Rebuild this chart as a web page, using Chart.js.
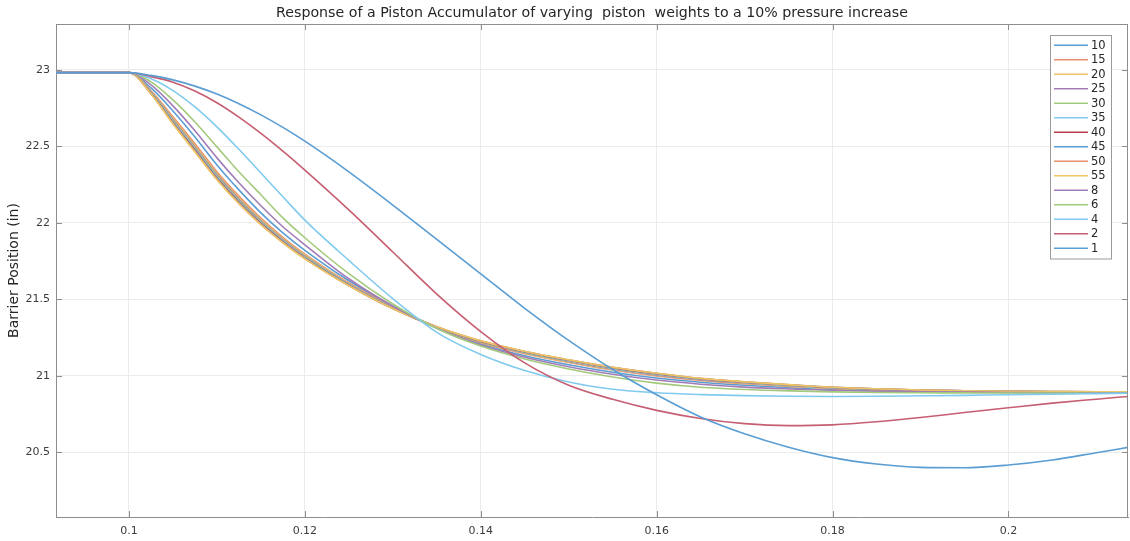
<!DOCTYPE html>
<html>
<head>
<meta charset="utf-8">
<script src="https://cdn.jsdelivr.net/npm/chart.js@4.4.1/dist/chart.umd.min.js"></script>
<style>
  html, body { margin: 0; padding: 0; background: #fff; }
  canvas { display: block; }
</style>
</head>
<body>
<canvas id="chart-response" width="1130" height="541"></canvas>
<script>
// simulation time (s)
const timeSteps = [0.0917, 0.1, 0.1025, 0.105, 0.1075, 0.11, 0.1125, 0.115, 0.1175, 0.12,
  0.125, 0.13, 0.135, 0.14, 0.145, 0.15, 0.155, 0.16, 0.165, 0.17,
  0.175, 0.18, 0.185, 0.19, 0.195, 0.2, 0.205, 0.21, 0.2136];

const weights = ["10", "15", "20", "25", "30", "35", "40", "45", "50", "55", "8", "6", "4", "2", "1"];

// barrier position (in) for each piston weight
const w10 = [22.982, 22.982, 22.882, 22.732, 22.562, 22.379, 22.216, 22.066, 21.935, 21.821, 21.622, 21.454, 21.316, 21.209, 21.132, 21.073, 21.024, 20.986, 20.959, 20.939, 20.923, 20.910, 20.903, 20.898, 20.896, 20.894, 20.892, 20.892, 20.890];
const w15 = [22.982, 22.982, 22.864, 22.694, 22.518, 22.335, 22.175, 22.031, 21.906, 21.796, 21.607, 21.450, 21.316, 21.217, 21.145, 21.088, 21.039, 21.000, 20.971, 20.949, 20.932, 20.917, 20.909, 20.903, 20.899, 20.897, 20.895, 20.894, 20.893];
const w20 = [22.982, 22.982, 22.859, 22.683, 22.505, 22.323, 22.163, 22.021, 21.897, 21.789, 21.603, 21.447, 21.317, 21.220, 21.149, 21.092, 21.043, 21.004, 20.974, 20.952, 20.935, 20.919, 20.911, 20.904, 20.900, 20.897, 20.895, 20.895, 20.893];
const w25 = [22.982, 22.982, 22.856, 22.675, 22.496, 22.314, 22.155, 22.014, 21.891, 21.783, 21.600, 21.446, 21.318, 21.222, 21.151, 21.095, 21.046, 21.007, 20.976, 20.954, 20.936, 20.921, 20.912, 20.905, 20.901, 20.898, 20.896, 20.895, 20.894];
const w30 = [22.982, 22.982, 22.853, 22.668, 22.489, 22.306, 22.148, 22.008, 21.886, 21.779, 21.597, 21.444, 21.319, 21.224, 21.154, 21.098, 21.049, 21.010, 20.979, 20.956, 20.938, 20.922, 20.913, 20.906, 20.901, 20.899, 20.897, 20.896, 20.895];
const w35 = [22.982, 22.982, 22.850, 22.662, 22.482, 22.299, 22.141, 22.002, 21.882, 21.775, 21.595, 21.443, 21.319, 21.226, 21.156, 21.100, 21.051, 21.012, 20.980, 20.958, 20.939, 20.923, 20.914, 20.906, 20.902, 20.899, 20.897, 20.896, 20.895];
const w40 = [22.982, 22.982, 22.848, 22.657, 22.476, 22.294, 22.136, 21.997, 21.878, 21.772, 21.593, 21.441, 21.320, 21.227, 21.158, 21.102, 21.053, 21.014, 20.982, 20.959, 20.941, 20.924, 20.914, 20.907, 20.902, 20.899, 20.897, 20.896, 20.895];
const w45 = [22.982, 22.982, 22.846, 22.653, 22.471, 22.289, 22.131, 21.993, 21.875, 21.769, 21.591, 21.440, 21.320, 21.228, 21.159, 21.104, 21.055, 21.016, 20.983, 20.960, 20.942, 20.925, 20.915, 20.907, 20.903, 20.900, 20.898, 20.897, 20.896];
const w50 = [22.982, 22.982, 22.844, 22.650, 22.467, 22.285, 22.128, 21.990, 21.872, 21.767, 21.590, 21.440, 21.321, 21.229, 21.160, 21.105, 21.056, 21.017, 20.984, 20.961, 20.942, 20.926, 20.916, 20.908, 20.903, 20.900, 20.898, 20.897, 20.896];
const w55 = [22.982, 22.982, 22.843, 22.647, 22.464, 22.282, 22.125, 21.988, 21.870, 21.765, 21.589, 21.439, 21.321, 21.230, 21.161, 21.106, 21.057, 21.018, 20.985, 20.962, 20.943, 20.926, 20.916, 20.908, 20.903, 20.900, 20.898, 20.897, 20.896];
const w8 = [22.982, 22.982, 22.902, 22.765, 22.602, 22.425, 22.262, 22.112, 21.975, 21.857, 21.635, 21.457, 21.312, 21.202, 21.122, 21.060, 21.011, 20.973, 20.946, 20.927, 20.915, 20.906, 20.900, 20.896, 20.894, 20.892, 20.890, 20.890, 20.889];
const w6 = [22.982, 22.982, 22.922, 22.804, 22.660, 22.497, 22.334, 22.184, 22.033, 21.903, 21.668, 21.470, 21.310, 21.195, 21.110, 21.045, 20.993, 20.953, 20.926, 20.911, 20.902, 20.896, 20.892, 20.890, 20.889, 20.888, 20.888, 20.887, 20.887];
const w4 = [22.982, 22.982, 22.942, 22.865, 22.758, 22.628, 22.481, 22.326, 22.171, 22.018, 21.755, 21.505, 21.285, 21.140, 21.035, 20.960, 20.913, 20.890, 20.878, 20.871, 20.867, 20.866, 20.867, 20.870, 20.873, 20.877, 20.880, 20.884, 20.887];
const w2 = [22.982, 22.982, 22.956, 22.920, 22.862, 22.785, 22.691, 22.585, 22.469, 22.345, 22.085, 21.810, 21.535, 21.290, 21.085, 20.939, 20.847, 20.775, 20.722, 20.688, 20.675, 20.680, 20.700, 20.728, 20.761, 20.792, 20.822, 20.848, 20.866];
const w1 = [22.982, 22.982, 22.964, 22.935, 22.894, 22.842, 22.779, 22.706, 22.624, 22.534, 22.334, 22.117, 21.892, 21.667, 21.442, 21.232, 21.042, 20.877, 20.732, 20.622, 20.534, 20.466, 20.424, 20.402, 20.400, 20.418, 20.451, 20.498, 20.533];

const xTicks = [0.1, 0.12, 0.14, 0.16, 0.18, 0.2];
const yTicks = [20.5, 21, 21.5, 22, 22.5, 23];

const seriesList = [w10, w15, w20, w25, w30, w35, w40, w45, w50, w55, w8, w6, w4, w2, w1];

// matlab-like line order, a bit washed out
const lineColors = ["#5a9dd3", "#e8906a", "#edc565", "#a27cb6", "#a3ca7c", "#80caef", "#b8414f",
  "#5a9dd3", "#e8906a", "#edc565", "#a27cb6", "#a3ca7c", "#80caef", "#c65e72", "#5a9dd3"];

const FONT = "'DejaVu Sans', Verdana, sans-serif";

// box, top/right edges and inward ticks, like a matlab axes
const axesFrame = {
  id: "axesFrame",
  afterDatasetsDraw(chart) {
    const { ctx, chartArea: a, scales: { x, y } } = chart;
    ctx.save();
    ctx.strokeStyle = "#8e8e8e";
    ctx.lineWidth = 1;
    ctx.beginPath();
    ctx.moveTo(a.left, a.top + 0.5);
    ctx.lineTo(a.right, a.top + 0.5);
    ctx.moveTo(a.right - 0.5, a.top);
    ctx.lineTo(a.right - 0.5, a.bottom);
    xTicks.forEach((v) => {
      const px = Math.round(x.getPixelForValue(v)) + 0.5;
      ctx.moveTo(px, a.bottom);
      ctx.lineTo(px, a.bottom - 6);
      ctx.moveTo(px, a.top);
      ctx.lineTo(px, a.top + 6);
    });
    yTicks.forEach((v) => {
      const py = Math.round(y.getPixelForValue(v)) + 0.5;
      ctx.moveTo(a.left, py);
      ctx.lineTo(a.left + 6, py);
      ctx.moveTo(a.right, py);
      ctx.lineTo(a.right - 6, py);
    });
    ctx.stroke();
    ctx.restore();
  },
};

const boxLegend = {
  id: "boxLegend",
  afterDraw(chart) {
    const { ctx } = chart;
    const sets = chart.data.datasets;
    const left = 1050, top = 35, width = 61, pad = 3, rowH = 14.5;
    const height = pad * 2 + rowH * sets.length;
    ctx.save();
    ctx.fillStyle = "#fff";
    ctx.fillRect(left, top, width, height);
    ctx.strokeStyle = "#9a9a9a";
    ctx.lineWidth = 1;
    ctx.strokeRect(left + 0.5, top + 0.5, width, height);
    ctx.font = "11.5px " + FONT;
    ctx.textBaseline = "middle";
    ctx.fillStyle = "#262626";
    sets.forEach((ds, i) => {
      const cy = top + pad + rowH * (i + 0.5);
      ctx.strokeStyle = ds.borderColor;
      ctx.lineWidth = 1.6;
      ctx.beginPath();
      ctx.moveTo(left + 4, cy);
      ctx.lineTo(left + 38, cy);
      ctx.stroke();
      ctx.fillText(ds.label, left + 41, cy + 0.5);
    });
    ctx.restore();
  },
};

new Chart(document.getElementById("chart-response"), {
  type: "line",
  data: {
    datasets: weights.map((w, i) => ({
      label: w,
      data: timeSteps.map((t, k) => ({ x: t, y: seriesList[i][k] })),
      borderColor: lineColors[i],
      borderWidth: 1.6,
      pointRadius: 0,
      cubicInterpolationMode: "monotone",
      order: weights.length - i,
    })),
  },
  options: {
    responsive: false,
    animation: false,
    events: [],
    layout: { padding: { left: 0, right: 2, top: 0, bottom: 0 } },
    plugins: {
      legend: { display: false },
      tooltip: { enabled: false },
      title: {
        display: true,
        fullSize: false,
        text: "Response of a Piston Accumulator of varying  piston  weights to a 10% pressure increase",
        color: "#262626",
        font: { family: FONT, size: 14.2, weight: "normal", lineHeight: "16px" },
        padding: { top: 5, bottom: 3 },
      },
    },
    scales: {
      x: {
        type: "linear",
        min: 0.0917,
        max: 0.2136,
        afterFit: (s) => { s.height = 24; },
        afterBuildTicks: (s) => { s.ticks = xTicks.map((v) => ({ value: v })); },
        grid: { color: "#ebebeb", drawTicks: false },
        border: { color: "#8e8e8e" },
        ticks: { color: "#3c3c3c", padding: 8, font: { family: FONT, size: 11 }, callback: (v) => String(v), maxRotation: 0 },
      },
      y: {
        min: 20.078,
        max: 23.3,
        afterFit: (s) => { s.width = 56; },
        afterBuildTicks: (s) => { s.ticks = yTicks.map((v) => ({ value: v })); },
        grid: { color: "#ebebeb", drawTicks: false },
        border: { color: "#8e8e8e" },
        ticks: { color: "#3c3c3c", padding: 6, font: { family: FONT, size: 11 }, callback: (v) => String(v) },
        title: {
          display: true,
          text: "Barrier Position (in)",
          color: "#262626",
          font: { family: FONT, size: 14 },
          padding: { top: 6, bottom: 0 },
        },
      },
    },
  },
  plugins: [axesFrame, boxLegend],
});
</script>
</body>
</html>
